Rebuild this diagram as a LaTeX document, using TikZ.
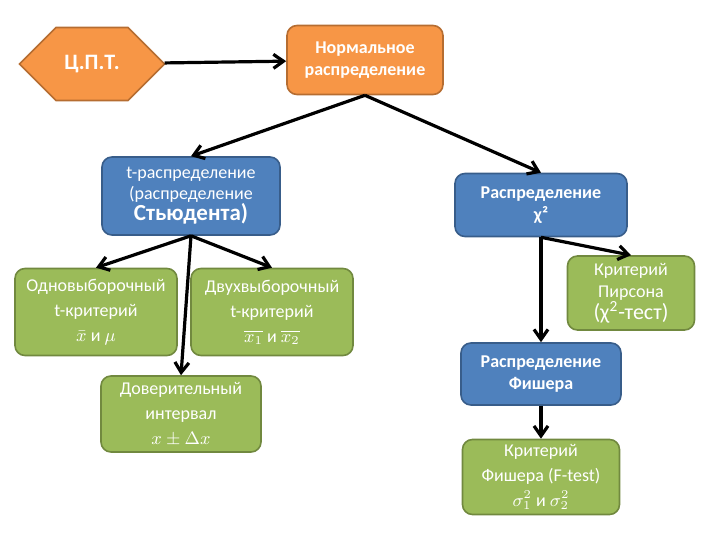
\documentclass[tikz,border=0pt]{standalone}
\usepackage{fontspec}
\setmainfont{Carlito}
\usetikzlibrary{shapes.misc,arrows.meta}
\definecolor{orng}{HTML}{F79646}
\definecolor{orngd}{HTML}{B66D31}
\definecolor{blu}{HTML}{4F81BD}
\definecolor{blud}{HTML}{385D8A}
\definecolor{grn}{HTML}{9BBB59}
\definecolor{grnd}{HTML}{71893F}
\tikzset{
  box/.style={rounded corners=5pt, line width=0.8pt, align=center, inner sep=1pt, font=\fontsize{9}{11}\selectfont},
  orbox/.style={box, fill=orng, draw=orngd, text=white, font=\bfseries\fontsize{9}{11}\selectfont},
  blbox/.style={box, fill=blu, draw=blud, text=white, font=\bfseries\fontsize{9}{11}\selectfont},
  grbox/.style={box, fill=grn, draw=grnd, text=white, font=\fontsize{9}{12.5}\selectfont},
  arr/.style={-{Straight Barb[length=5pt,width=7pt]}, line width=1.6pt}
}
\begin{document}
\begin{tikzpicture}[x=0.5pt,y=-0.5pt]
    \useasboundingbox (0,0) rectangle (720,540);
    \begin{scope}
        \node[chamfered rectangle, chamfered rectangle xsep=18pt, chamfered rectangle ysep=17pt, fill=orng, draw=orngd, line width=0.8pt, minimum width=72.5pt, minimum height=34pt, inner sep=0pt, text=white, font=\bfseries\fontsize{11}{12}\selectfont] (cpt) at (92,64) {Ц.П.Т.};
        \node[orbox, minimum width=78pt, minimum height=34.5pt] (norm) at (365,60) {Нормальное\\распределение};
        \node[blbox, minimum width=89pt, minimum height=39pt, font=\fontsize{9}{10.5}\selectfont] (tdist) at (191,196) {t-распределение\\(распределение\\{\bfseries\fontsize{11.5}{12}\selectfont Стьюдента)}};
        \node[blbox, minimum width=86pt, minimum height=31.5pt] (chi) at (541,205) {Распределение\\χ²};
        \node[grbox, minimum width=81pt, minimum height=43.5pt] (one) at (96,312) {Одновыборочный\\t-критерий\\$\bar{x}$ и $\mu$};
        \node[grbox, minimum width=81pt, minimum height=43.5pt] (two) at (272,312) {Двухвыборочный\\t-критерий\\$\overline{x_1}$ и $\overline{x_2}$};
        \node[grbox, minimum width=80pt, minimum height=38pt] (conf) at (181,414) {Доверительный\\интервал\\$x \pm \Delta x$};
        \node[grbox, minimum width=63.5pt, minimum height=37pt, font=\fontsize{9}{11}\selectfont] (pear) at (631,293) {Критерий\\Пирсона\\{\fontsize{11}{12}\selectfont(χ\textsuperscript{2}-тест)}};
        \node[blbox, minimum width=80pt, minimum height=31pt] (fdist) at (541,374) {Распределение\\Фишера};
        \node[grbox, minimum width=78.5pt, minimum height=37.5pt] (fcrit) at (541,477) {Критерий\\Фишера (F-test)\\$\sigma_1^2$ и $\sigma_2^2$};
    \end{scope}
    \begin{scope}[every edge/.style={draw, arr}]
        \path (cpt) edge (norm);
        \path (norm.south) edge (tdist.north);
        \path (norm.south) edge (chi.north);
        \path (tdist.south) edge (one.north);
        \path (tdist.south) edge (two.north);
        \path (tdist.south) edge (conf.north);
        \path (chi.south) edge (pear.north);
        \path (chi.south) edge (fdist.north);
        \path (fdist) edge (fcrit);
    \end{scope}
\end{tikzpicture}
\end{document}
